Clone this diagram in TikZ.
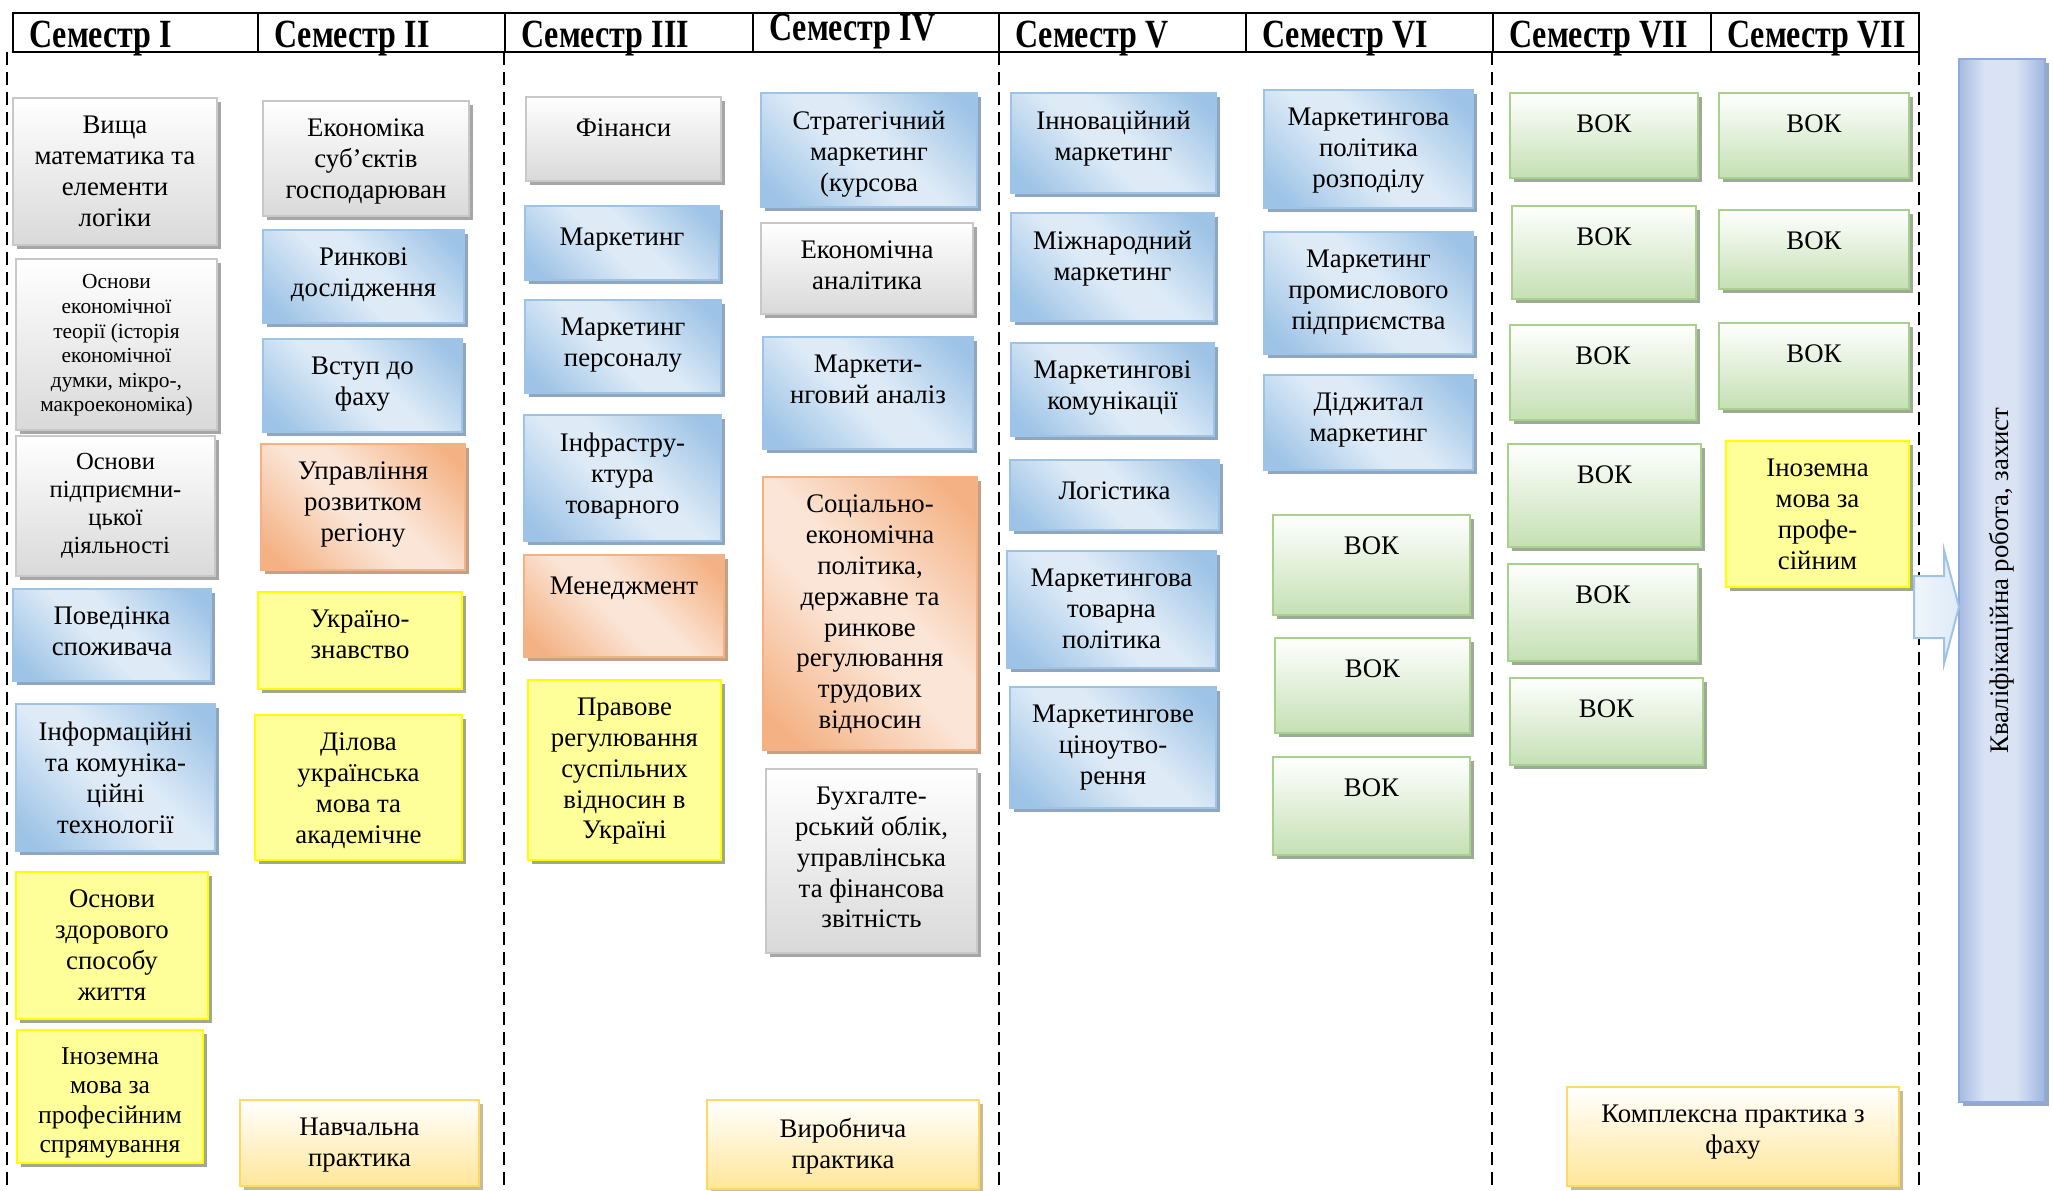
\documentclass[tikz,border=0pt]{standalone}
\usepackage{fontspec}
\setmainfont{Liberation Serif}
\newfontfamily\hfont[FakeStretch=0.8]{Liberation Serif}
\usetikzlibrary{shadows}
\definecolor{bdark}{HTML}{9DC3E6}
\definecolor{blight}{HTML}{DEEBF7}
\definecolor{bshad}{HTML}{8FA6BE}
\definecolor{odark}{HTML}{F4B183}
\definecolor{olight}{HTML}{FBE5D6}
\definecolor{oshad}{HTML}{C4A089}
\definecolor{gbot}{HTML}{D9D9D9}
\definecolor{gline}{HTML}{C8C8C8}
\definecolor{gshad}{HTML}{A6A6A6}
\definecolor{grbot}{HTML}{C5E0B4}
\definecolor{grline}{HTML}{A9D18E}
\definecolor{grshad}{HTML}{9EAA95}
\definecolor{yfill}{HTML}{FFFF99}
\definecolor{yline}{HTML}{FFFF00}
\definecolor{yshad}{HTML}{A0A88E}
\definecolor{pbot}{HTML}{FFE699}
\definecolor{pline}{HTML}{FFD966}
\definecolor{pshad}{HTML}{C8BC94}
\definecolor{kdark}{HTML}{8FAADC}
\definecolor{klight}{HTML}{DAE3F3}
\definecolor{kshad}{HTML}{98A6C0}
\pgfdeclarehorizontalshading{diagB}{100bp}{color(0bp)=(bdark); color(20bp)=(bdark); color(45bp)=(blight); color(55bp)=(blight); color(80bp)=(bdark); color(100bp)=(bdark)}
\pgfdeclarehorizontalshading{diagO}{100bp}{color(0bp)=(odark); color(20bp)=(odark); color(45bp)=(olight); color(55bp)=(olight); color(80bp)=(odark); color(100bp)=(odark)}
\pgfdeclarehorizontalshading{barK}{100bp}{color(0bp)=(kdark); color(25bp)=(kdark!70!klight); color(40bp)=(klight); color(58bp)=(klight); color(75bp)=(kdark!80!klight); color(100bp)=(kdark)}
\tikzset{
  base/.style={rectangle, inner sep=0pt, outer sep=0pt, line width=1pt},
  shad/.style={drop shadow={shadow xshift=2pt, shadow yshift=-2pt, fill=#1, opacity=1}},
  gbox/.style={base, draw=gline, top color=white, bottom color=gbot, shad=gshad},
  bbox/.style={base, draw=bdark, shading=diagB, shading angle=45, shad=bshad},
  obox/.style={base, draw=odark, shading=diagO, shading angle=45, shad=oshad},
  grbox/.style={base, draw=grline, top color=white, bottom color=grbot, shad=grshad},
  ybox/.style={base, draw=yline, line width=1.4pt, fill=yfill, shad=yshad},
  pbox/.style={base, draw=pline, top color=white, bottom color=pbot, shad=pshad},
  kbox/.style={base, draw=kdark, shading=barK, shad=kshad},
  txt/.style={inner sep=0pt, align=center, anchor=north, font=\fontsize{13.4}{15.4}\selectfont, execute at begin node=\strut},
  hcell/.style={rectangle, draw=black, line width=1pt, inner sep=0pt},
  htxt/.style={anchor=base west, inner sep=0pt, font=\hfont\bfseries\fontsize{20}{24}\selectfont},
  sepline/.style={draw=black, line width=1pt, dash pattern=on 6.5pt off 3.5pt},
}
\newcommand\bx[8][]{%
  \node[#3, minimum width={(#6-#4)*0.5pt}, minimum height={(#7-#5)*0.5pt}] (#2) at ({(#4+#6)/2},{(#5+#7)/2}) {};
  \node[txt, #1] (#2t) at ([yshift=-8.9pt]#2.north) {#8};
}
\newcommand\hc[4]{%
  \node[hcell, minimum width={(#3-#2)*0.5pt}, minimum height=19.5pt] (#1) at ({(#2+#3)/2},32.5) {};
}
\begin{document}
\begin{tikzpicture}[x=0.5pt, y=-0.5pt]
\useasboundingbox (0,0) rectangle (2053,1190);
% separators
\foreach \xx in {6.5,504,999,1492,1919}{
  \draw[sepline] (\xx,52) -- (\xx,1190);
}
% header
\hc{h1}{13}{258}{}
\hc{h2}{258}{505}{}
\hc{h3}{505}{753}{}
\hc{h4}{753}{999}{}
\hc{h5}{999}{1246}{}
\hc{h6}{1246}{1493}{}
\hc{h7}{1493}{1711}{}
\hc{h8}{1711}{1919}{}
\node[htxt] (h1t) at (29,47) {Семестр I};
\node[htxt] (h2t) at (274,47) {Семестр II};
\node[htxt] (h3t) at (521,47) {Семестр III};
\node[htxt] (h4t) at (769,40) {Семестр IV};
\node[htxt] (h5t) at (1015,47) {Семестр V};
\node[htxt] (h6t) at (1262,47) {Семестр VI};
\node[htxt] (h7t) at (1509,47) {Семестр VII};
\node[htxt] (h8t) at (1727,47) {Семестр VII};
% column 1
\bx{b11}{gbox}{13}{98}{217}{245}{Вища\\математика та\\елементи\\логіки}
\bx[font=\fontsize{10.7}{12.3}\selectfont, yshift=1.2pt]{b12}{gbox}{16}{259}{217}{430}{Основи\\економічної\\теорії (історія\\економічної\\думки, мікро-,\\макроекономіка)}
\bx[font=\fontsize{12.3}{14}\selectfont, yshift=0.4pt]{b13}{gbox}{16}{436}{215}{576}{Основи\\підприємни-\\цької\\діяльності}
\bx{b14}{bbox}{13}{589}{211}{681}{Поведінка\\споживача}
\bx{b15}{bbox}{16}{704}{215}{851}{Інформаційні\\та комуніка-\\ційні\\технології}
\bx{b16}{ybox}{16}{872}{208}{1019}{Основи\\здорового\\способу\\життя}
\bx[font=\fontsize{12.8}{14.8}\selectfont, yshift=0.4pt]{b17}{ybox}{17}{1030}{203}{1163}{Іноземна\\мова за\\професійним\\спрямування}
% column 2
\bx{b21}{gbox}{263}{101}{469}{216}{Економіка\\суб’єктів\\господарюван}
\bx{b22}{bbox}{263}{230}{464}{323}{Ринкові\\дослідження}
\bx{b23}{bbox}{263}{339}{462}{432}{Вступ до\\фаху}
\bx{b24}{obox}{261}{444}{465}{570}{Управління\\розвитком\\регіону}
\bx{b25}{ybox}{258}{592}{462}{689}{Україно-\\знавство}
\bx{b26}{ybox}{255}{715}{462}{860}{Ділова\\українська\\мова та\\академічне}
\bx{b27}{pbox}{240}{1100}{479}{1186}{Навчальна\\практика}
% column 3
\bx{b31}{gbox}{526}{97}{721}{181}{Фінанси}
\bx{b32}{bbox}{525}{206}{719}{280}{Маркетинг}
\bx{b33}{bbox}{525}{300}{721}{393}{Маркетинг\\персоналу}
\bx{b34}{bbox}{524}{415}{721}{541}{Інфрастру-\\ктура\\товарного}
\bx{b35}{obox}{524}{555}{724}{657}{Менеджмент}
\bx{b36}{ybox}{528}{680}{721}{860}{Правове\\регулювання\\суспільних\\відносин в\\Україні}
% column 4
\bx{b41}{bbox}{761}{93}{977}{207}{Стратегічний\\маркетинг\\(курсова}
\bx{b42}{gbox}{761}{223}{973}{314}{Економічна\\аналітика}
\bx{b43}{bbox}{763}{337}{973}{449}{Маркети-\\нговий аналіз}
\bx{b44}{obox}{763}{477}{977}{750}{Соціально-\\економічна\\політика,\\державне та\\ринкове\\регулювання\\трудових\\відносин}
\bx{b45}{gbox}{766}{769}{977}{953}{Бухгалте-\\рський облік,\\управлінська\\та фінансова\\звітність}
\bx{b46}{pbox}{707}{1100}{979}{1189}{Виробнича\\практика}
% column 5
\bx{b51}{bbox}{1011}{93}{1216}{193}{Інноваційний\\маркетинг}
\bx{b52}{bbox}{1011}{213}{1214}{321}{Міжнародний\\маркетинг}
\bx{b53}{bbox}{1011}{343}{1214}{436}{Маркетингові\\комунікації}
\bx{b54}{bbox}{1010}{460}{1219}{530}{Логістика}
\bx{b55}{bbox}{1007}{551}{1216}{668}{Маркетингова\\товарна\\політика}
\bx{b56}{bbox}{1010}{687}{1216}{808}{Маркетингове\\ціноутво-\\рення}
% column 6
\bx{b61}{bbox}{1264}{90}{1473}{208}{Маркетингова\\політика\\розподілу}
\bx{b62}{bbox}{1264}{232}{1473}{354}{Маркетинг\\промислового\\підприємства}
\bx{b63}{bbox}{1264}{375}{1473}{470}{Діджитал\\маркетинг}
\bx{b64}{grbox}{1273}{515}{1470}{615}{ВОК}
\bx{b65}{grbox}{1275}{638}{1470}{733}{ВОК}
\bx{b66}{grbox}{1273}{757}{1470}{855}{ВОК}
% column 7
\bx{b71}{grbox}{1510}{93}{1698}{178}{ВОК}
\bx{b72}{grbox}{1512}{206}{1696}{299}{ВОК}
\bx{b73}{grbox}{1510}{325}{1696}{420}{ВОК}
\bx{b74}{grbox}{1508}{444}{1701}{547}{ВОК}
\bx{b75}{grbox}{1508}{564}{1698}{661}{ВОК}
\bx{b76}{grbox}{1510}{678}{1703}{765}{ВОК}
\bx{b77}{pbox}{1567}{1087}{1899}{1186}{Комплексна практика з\\фаху}
% column 8
\bx{b81}{grbox}{1719}{93}{1909}{178}{ВОК}
\bx{b82}{grbox}{1719}{210}{1909}{289}{ВОК}
\bx{b83}{grbox}{1719}{323}{1909}{409}{ВОК}
\bx{b84}{ybox}{1726}{441}{1909}{587}{Іноземна\\мова за\\профе-\\сійним}
% final bar
\node[kbox, minimum width=43pt, minimum height=521.5pt] (kr) at (2002,580.5) {};
\node[rotate=90, inner sep=0pt, font=\fontsize{13.4}{15.4}\selectfont] (krt) at (kr.center) {Кваліфікаційна робота, захист};
% arrow
\coordinate (a0) at (1914,607);
\path[draw=bdark, line width=1pt, left color=blight!50, right color=blight]
  (1914,576) -- (1944,576) -- (1944,550) -- (kr.west |- a0) -- (1944,664) -- (1944,638) -- (1914,638) -- cycle;
\end{tikzpicture}
\end{document}
